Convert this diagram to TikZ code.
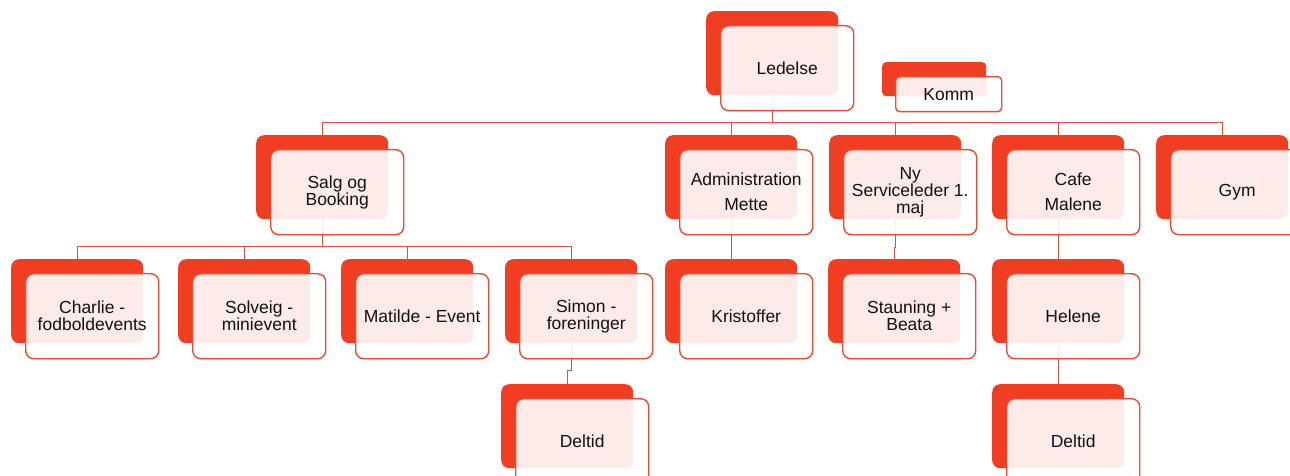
\documentclass[tikz,border=0pt]{standalone}
\usepackage{fontspec}
\setmainfont{Liberation Sans}
\usetikzlibrary{backgrounds}
\definecolor{boxred}{HTML}{F13D22}
\definecolor{edgered}{HTML}{EE4A33}
\definecolor{linered}{HTML}{E0503B}
\definecolor{txt}{HTML}{111111}
\tikzset{
  backbox/.style={fill=boxred, draw=none, rounded corners=8pt, minimum width=132pt, minimum height=84pt, inner sep=0pt, anchor=north west},
  frontbox/.style={fill=white, fill opacity=0.9, text opacity=1, draw=edgered, line width=1.4pt, rounded corners=8pt, minimum width=133pt, minimum height=85pt, inner sep=0pt, anchor=north west, align=center, text=txt, font=\fontsize{17.5}{17}\selectfont},
  smallback/.style={backbox, minimum width=104pt, minimum height=34pt, rounded corners=4pt},
  smallfront/.style={frontbox, minimum width=106pt, minimum height=35pt, rounded corners=4pt},
  conn/.style={draw=linered, line width=1.4pt},
}
\newcommand{\orgbox}[4]{%
  \node[backbox] (#1b) at (#2,#3) {};
  \node[frontbox] (#1) at (#2+14,#3+14) {#4};
}
\begin{document}
\begin{tikzpicture}[x=1pt,y=-1pt]
\useasboundingbox (0,0) rectangle (1290,476);
\clip (0,0) rectangle (1290,476);
% row 1
\orgbox{led}{706}{11}{Ledelse}
\node[smallback] (kommb) at (882,62) {};
\node[smallfront] (komm) at (895,76) {Komm};
% row 2
\orgbox{salg}{256}{135}{Salg og\\Booking}
\orgbox{adm}{665}{135}{Administration\\[8pt]Mette}
\orgbox{ny}{829}{135}{Ny\\Serviceleder 1.\\maj}
\orgbox{cafe}{992}{135}{Cafe\\[8pt]Malene}
\orgbox{gym}{1156}{135}{Gym}
% row 3
\orgbox{char}{11}{259}{Charlie -\\fodboldevents}
\orgbox{sol}{178}{259}{Solveig -\\minievent}
\orgbox{mat}{341}{259}{Matilde - Event}
\orgbox{sim}{505}{259}{Simon -\\foreninger}
\orgbox{kris}{665}{259}{Kristoffer}
\orgbox{stau}{828}{259}{Stauning +\\Beata}
\orgbox{hel}{992}{259}{Helene}
% row 4
\orgbox{delA}{501}{384}{Deltid}
\orgbox{delB}{992}{384}{Deltid}
% connectors
\coordinate (bus) at (0,122.5);
\coordinate (bustwo) at (0,246.5);
\begin{pgfonlayer}{background}
\draw[conn] (ledb.south) -- (ledb.south |- bus);
\draw[conn] (salgb.north) -- (salgb.north |- bus) -- (gymb.north |- bus) -- (gymb.north);
\foreach \n in {admb,nyb,cafeb} \draw[conn] (\n.north) -- (\n.north |- bus);
\draw[conn] (salgb.south) -- (salgb.south |- bustwo);
\draw[conn] (charb.north) -- (charb.north |- bustwo) -- (simb.north |- bustwo) -- (simb.north);
\foreach \n in {solb,matb} \draw[conn] (\n.north) -- (\n.north |- bustwo);
\draw[conn] (simb.south) -- ++(0,27) -| (delAb.north);
\draw[conn] (admb.south) -- (krisb.north);
\draw[conn] (nyb.south) -- ++(0,28) -| (staub.north);
\draw[conn] (cafeb.south) -- (helb.north);
\draw[conn] (helb.south) -- (delBb.north);
\end{pgfonlayer}
\end{tikzpicture}
\end{document}
